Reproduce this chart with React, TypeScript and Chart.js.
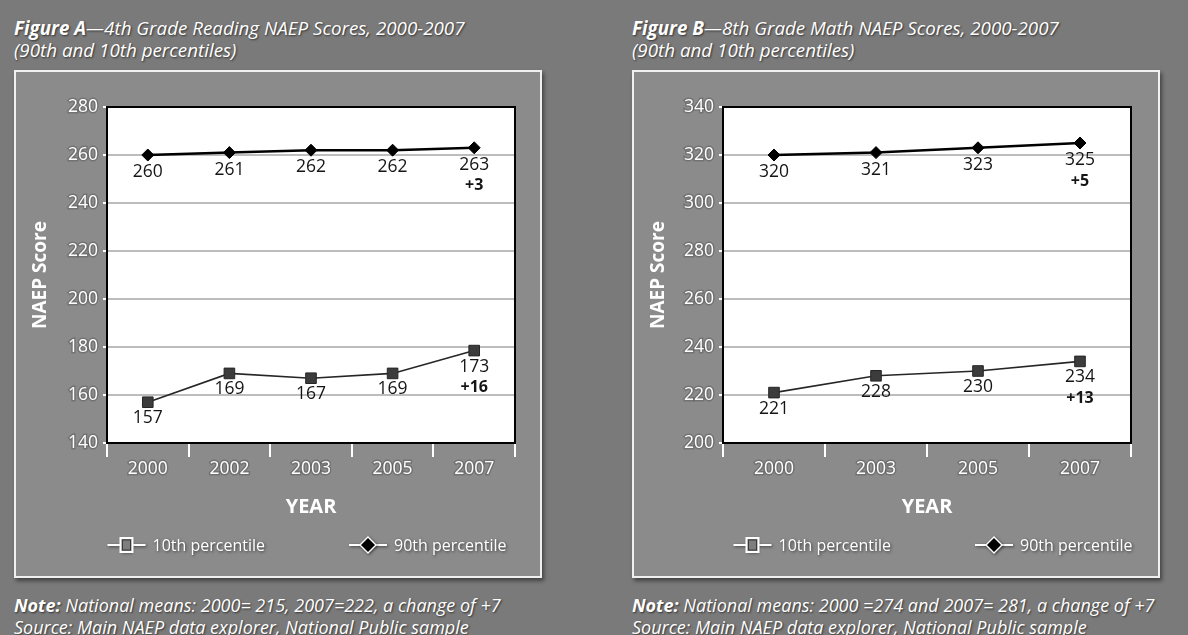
import React, { useEffect, useRef } from "react";
import { Chart, registerables } from "chart.js";

Chart.register(...registerables);

const FONT = '"Open Sans", "DejaVu Sans", sans-serif';

// ---------- Figure A: 4th Grade Reading ----------
const yearsA = ["2000", "2002", "2003", "2005", "2007"];
// marker positions as drawn in the picture
const tenthA = [157, 169, 167, 169, 178.5];
const tenthLabelsA = ["157", "169", "167", "169", "173"];
const tenthChangeA = "+16";
const ninetiethA = [260, 261, 262, 262, 263];
const ninetiethLabelsA = ["260", "261", "262", "262", "263"];
const ninetiethChangeA = "+3";
const yTicksA = [140, 160, 180, 200, 220, 240, 260, 280];

// ---------- Figure B: 8th Grade Math ----------
const yearsB = ["2000", "2003", "2005", "2007"];
const tenthB = [221, 228, 230, 234];
const tenthLabelsB = ["221", "228", "230", "234"];
const tenthChangeB = "+13";
const ninetiethB = [320, 321, 323, 325];
const ninetiethLabelsB = ["320", "321", "323", "325"];
const ninetiethChangeB = "+5";
const yTicksB = [200, 220, 240, 260, 280, 300, 320, 340];

const seriesNames = ["10th percentile", "90th percentile"];

const chartBgPlugin = {
  id: "chartBg",
  beforeDraw(chart: any) {
    const { ctx, chartArea: a } = chart;
    ctx.save();
    ctx.fillStyle = "#ffffff";
    ctx.fillRect(a.left, a.top, a.right - a.left, a.bottom - a.top);
    ctx.restore();
  },
  beforeDatasetsDraw(chart: any) {
    const { ctx, chartArea: a } = chart;
    ctx.save();
    ctx.strokeStyle = "#000";
    ctx.lineWidth = 2;
    ctx.strokeRect(a.left, a.top, a.right - a.left, a.bottom - a.top);
    ctx.restore();
  },
};

const pointLabelsPlugin = {
  id: "pointLabels",
  afterDatasetsDraw(chart: any, _args: any, opts: any) {
    const ctx = chart.ctx;
    ctx.save();
    ctx.textAlign = "center";
    ctx.textBaseline = "middle";
    ctx.fillStyle = "#151515";
    (opts.sets || []).forEach((set: any, i: number) => {
      const meta = chart.getDatasetMeta(i);
      meta.data.forEach((el: any, j: number) => {
        ctx.font = `17.5px ${FONT}`;
        ctx.fillText(set.labels[j], el.x, el.y + set.dy);
      });
      const last = meta.data[meta.data.length - 1];
      ctx.font = `bold 16px ${FONT}`;
      ctx.fillText(set.change, last.x, last.y + set.changeDy);
    });
    ctx.restore();
  },
};

const customLegendPlugin = {
  id: "customLegend",
  afterDraw(chart: any, _args: any, opts: any) {
    const ctx = chart.ctx;
    const a = chart.chartArea;
    const y = opts.y;
    const markerW = 38;
    const gapText = 7;
    const gapItems = 84;
    ctx.save();
    ctx.font = `16px ${FONT}`;
    const names: string[] = opts.names;
    const widths = names.map((n) => markerW + gapText + ctx.measureText(n).width);
    const total = widths[0] + gapItems + widths[1];
    let x = (a.left + a.right) / 2 - total / 2 + (opts.shift || 0);
    names.forEach((n, i) => {
      ctx.save();
      ctx.shadowColor = "rgba(0,0,0,0.55)";
      ctx.shadowBlur = 3;
      ctx.shadowOffsetX = 1;
      ctx.shadowOffsetY = 1;
      ctx.strokeStyle = "#ffffff";
      ctx.lineWidth = 2;
      ctx.beginPath();
      ctx.moveTo(x, y);
      ctx.lineTo(x + markerW, y);
      ctx.stroke();
      const cx = x + markerW / 2;
      if (i === 0) {
        ctx.fillStyle = "#7e7e7e";
        ctx.fillRect(cx - 6, y - 7, 12, 14);
        ctx.shadowColor = "transparent";
        ctx.strokeStyle = "#ffffff";
        ctx.lineWidth = 2;
        ctx.strokeRect(cx - 6, y - 7, 12, 14);
        ctx.strokeStyle = "#3a3a3a";
        ctx.lineWidth = 1;
        ctx.strokeRect(cx - 4, y - 5, 8, 10);
      } else {
        ctx.beginPath();
        ctx.moveTo(cx, y - 9);
        ctx.lineTo(cx + 9, y);
        ctx.lineTo(cx, y + 9);
        ctx.lineTo(cx - 9, y);
        ctx.closePath();
        ctx.fillStyle = "#ffffff";
        ctx.fill();
        ctx.shadowColor = "transparent";
        ctx.beginPath();
        ctx.moveTo(cx, y - 7);
        ctx.lineTo(cx + 7, y);
        ctx.lineTo(cx, y + 7);
        ctx.lineTo(cx - 7, y);
        ctx.closePath();
        ctx.fillStyle = "#000";
        ctx.fill();
      }
      ctx.restore();
      ctx.save();
      ctx.shadowColor = "rgba(0,0,0,0.6)";
      ctx.shadowBlur = 3;
      ctx.shadowOffsetX = 1;
      ctx.shadowOffsetY = 1;
      ctx.fillStyle = "#ffffff";
      ctx.font = `16px ${FONT}`;
      ctx.textAlign = "left";
      ctx.textBaseline = "middle";
      ctx.fillText(n, x + markerW + gapText, y + 1);
      ctx.restore();
      x += widths[i] + gapItems;
    });
    ctx.restore();
  },
};

type PanelProps = {
  left: number;
  titleBold: string;
  titleRest: string;
  noteRest: string;
  years: string[];
  tenth: number[];
  tenthLabels: string[];
  tenthChange: string;
  ninetieth: number[];
  ninetiethLabels: string[];
  ninetiethChange: string;
  yTicks: number[];
  chartLeft: number;
  chartRight: number;
  legendShift: number;
};

const CANVAS_W = 528;
const CANVAS_H = 508;
const BOX_TOP = 70;

function Panel(p: PanelProps) {
  const ref = useRef<HTMLCanvasElement | null>(null);
  useEffect(() => {
    if (!ref.current) return;
    const yMin = p.yTicks[0];
    const yMax = p.yTicks[p.yTicks.length - 1];
    const step = p.yTicks[1] - p.yTicks[0];
    const chart = new Chart(ref.current, {
      type: "line",
      data: {
        labels: p.years,
        datasets: [
          {
            label: seriesNames[0],
            data: p.tenth,
            borderColor: "#262626",
            borderWidth: 1.6,
            pointStyle: "rect",
            pointRadius: 7.5,
            pointBackgroundColor: "#3c3c3c",
            pointBorderColor: "#262626",
            pointBorderWidth: 1,
            tension: 0,
          },
          {
            label: seriesNames[1],
            data: p.ninetieth,
            borderColor: "#000000",
            borderWidth: 2.5,
            pointStyle: "rectRot",
            pointRadius: 6,
            pointBackgroundColor: "#000000",
            pointBorderColor: "#000000",
            pointBorderWidth: 1,
            tension: 0,
          },
        ],
      },
      options: {
        animation: false,
        responsive: false,
        devicePixelRatio: 1,
        layout: {
          padding: { top: 37, right: CANVAS_W - p.chartRight, bottom: CANVAS_H - 373 - 80, left: 0 },
        },
        plugins: {
          legend: { display: false },
          tooltip: { enabled: false },
          pointLabels: {
            sets: [
              { labels: p.tenthLabels, change: p.tenthChange, dy: 16, changeDy: 37 },
              { labels: p.ninetiethLabels, change: p.ninetiethChange, dy: 17, changeDy: 38 },
            ],
          },
          customLegend: { y: 475, names: seriesNames, shift: p.legendShift },
        } as any,
        scales: {
          x: {
            type: "category",
            offset: true,
            grid: {
              display: true,
              offset: true,
              drawOnChartArea: false,
              drawTicks: true,
              tickLength: 14,
              color: "#ffffff",
              lineWidth: 2,
            },
            border: { display: true, color: "#000", width: 2 },
            ticks: {
              color: "#ffffff",
              font: { family: FONT, size: 17.5 },
              padding: 2,
              textStrokeColor: "rgba(0,0,0,0.18)",
              textStrokeWidth: 3,
            } as any,
            title: {
              display: true,
              text: "YEAR",
              color: "#ffffff",
              font: { family: FONT, size: 20, weight: "bold" },
              padding: { top: 0, bottom: 4 },
            },
            afterFit: (s: any) => {
              s.height = 80;
            },
          },
          y: {
            min: yMin,
            max: yMax,
            ticks: {
              stepSize: step,
              color: "#ffffff",
              font: { family: FONT, size: 17.5 },
              padding: 5,
              textStrokeColor: "rgba(0,0,0,0.18)",
              textStrokeWidth: 3,
            } as any,
            grid: {
              color: "#bdbdbd",
              lineWidth: 2,
              tickColor: "#ffffff",
              tickLength: 4,
              drawTicks: true,
            },
            border: { display: true, color: "#000", width: 2 },
            title: {
              display: true,
              text: "NAEP Score",
              color: "#ffffff",
              font: { family: FONT, size: 19, weight: "bold" },
              padding: { top: 15, bottom: 0 },
            },
            afterFit: (s: any) => {
              s.width = p.chartLeft;
            },
          },
        },
      },
      plugins: [chartBgPlugin, pointLabelsPlugin, customLegendPlugin],
    });
    return () => chart.destroy();
  }, []);

  const shadow = "1px 1px 2px rgba(0,0,0,0.6)";
  return (
    <>
      <div
        style={{
          position: "absolute",
          left: p.left,
          top: 17,
          color: "#fff",
          fontStyle: "italic",
          fontSize: 18.8,
          lineHeight: "22px",
          textShadow: shadow,
          whiteSpace: "nowrap",
          fontFamily: FONT,
        }}
      >
        <div>
          <span style={{ fontWeight: 700 }}>{p.titleBold}</span>
          {p.titleRest}
        </div>
        <div>(90th and 10th percentiles)</div>
      </div>
      <div
        style={{
          position: "absolute",
          left: p.left,
          top: BOX_TOP,
          width: CANVAS_W,
          height: CANVAS_H,
          boxSizing: "border-box",
          border: "2px solid #f0f0f0",
          background: "#8b8b8b",
          boxShadow: "2px 3px 4px rgba(0,0,0,0.45)",
        }}
      />
      <canvas
        ref={ref}
        width={CANVAS_W}
        height={CANVAS_H}
        style={{ position: "absolute", left: p.left, top: BOX_TOP, width: CANVAS_W, height: CANVAS_H }}
      />
      <div
        style={{
          position: "absolute",
          left: p.left,
          top: 594,
          color: "#fff",
          fontStyle: "italic",
          fontSize: 18,
          lineHeight: "22px",
          textShadow: shadow,
          whiteSpace: "nowrap",
          fontFamily: FONT,
        }}
      >
        <div>
          <span style={{ fontWeight: 700 }}>Note:</span>
          {p.noteRest}
        </div>
        <div>Source: Main NAEP data explorer, National Public sample</div>
      </div>
    </>
  );
}

export default function App() {
  return (
    <div
      style={{
        position: "absolute",
        left: 0,
        top: 0,
        width: 1188,
        height: 635,
        background: "#7a7a7a",
        overflow: "hidden",
      }}
    >
      <Panel
        left={14}
        titleBold="Figure A"
        titleRest="—4th Grade Reading NAEP Scores, 2000-2007"
        noteRest=" National means: 2000= 215, 2007=222, a change of +7"
        years={yearsA}
        tenth={tenthA}
        tenthLabels={tenthLabelsA}
        tenthChange={tenthChangeA}
        ninetieth={ninetiethA}
        ninetiethLabels={ninetiethLabelsA}
        ninetiethChange={ninetiethChangeA}
        yTicks={yTicksA}
        chartLeft={93}
        chartRight={501}
        legendShift={-4}
      />
      <Panel
        left={632}
        titleBold="Figure B"
        titleRest="—8th Grade Math NAEP Scores, 2000-2007"
        noteRest=" National means: 2000 =274 and 2007= 281, a change of +7"
        years={yearsB}
        tenth={tenthB}
        tenthLabels={tenthLabelsB}
        tenthChange={tenthChangeB}
        ninetieth={ninetiethB}
        ninetiethLabels={ninetiethLabelsB}
        ninetiethChange={ninetiethChangeB}
        yTicks={yTicksB}
        chartLeft={91}
        chartRight={499}
        legendShift={6}
      />
    </div>
  );
}
